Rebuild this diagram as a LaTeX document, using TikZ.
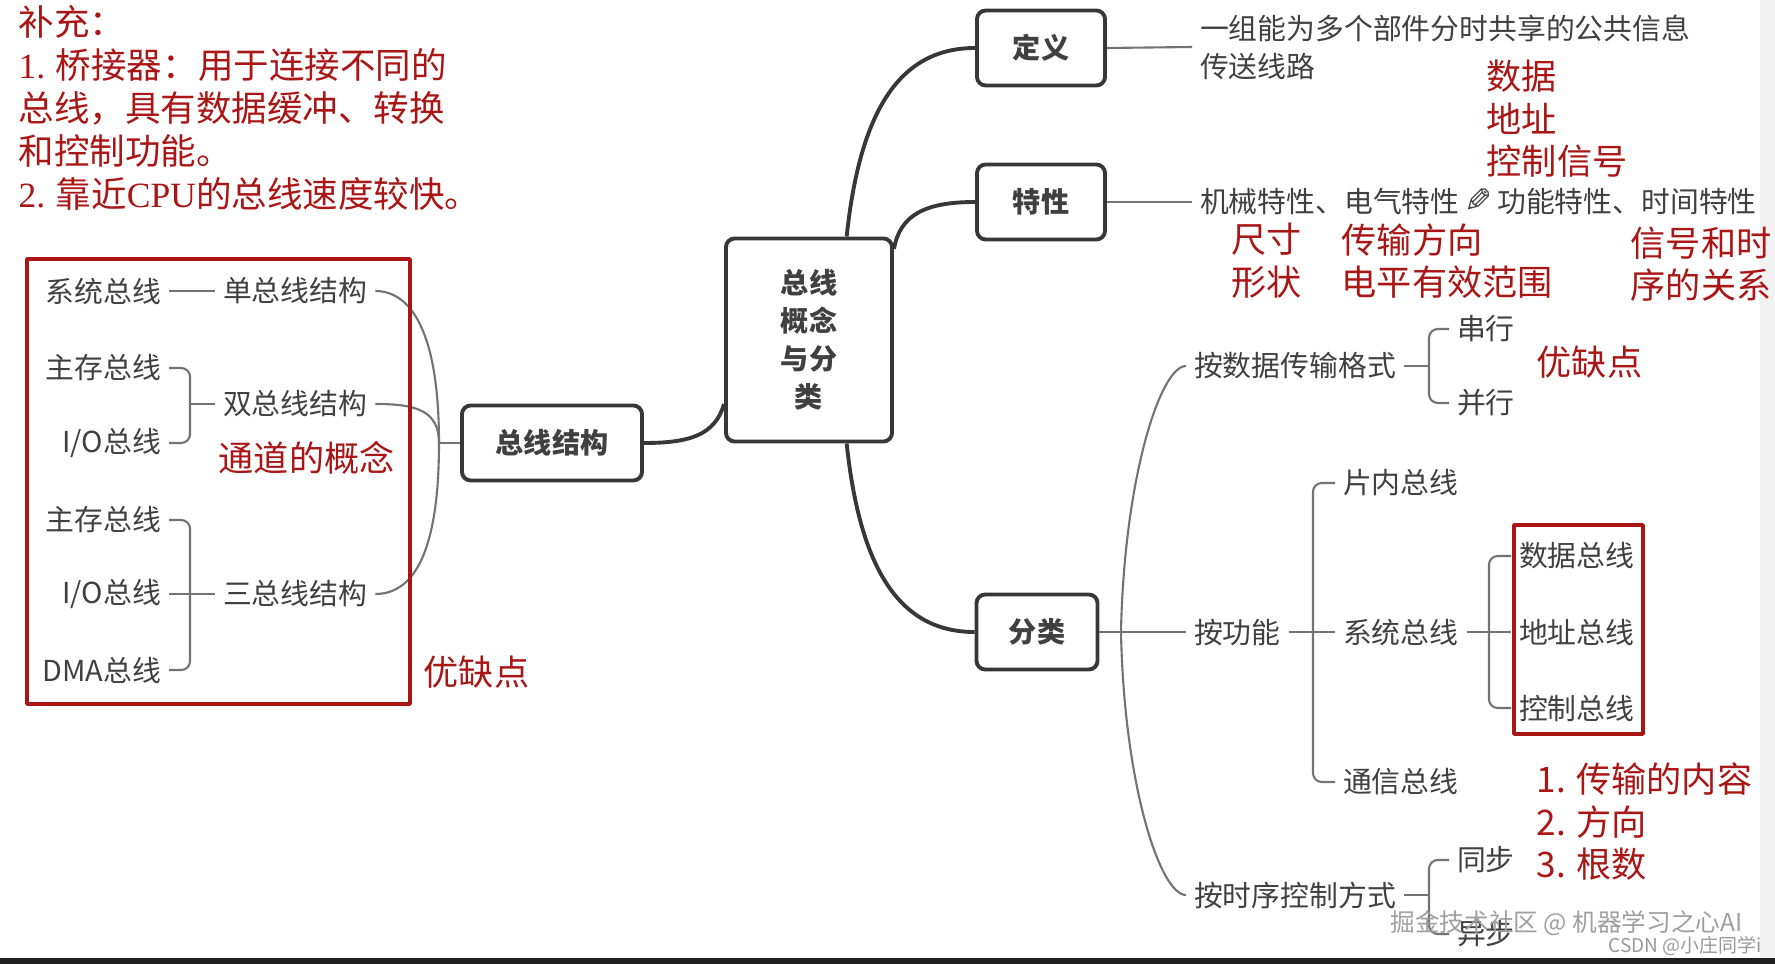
\documentclass[tikz,border=0pt]{standalone}
\usepackage{fontspec}
\setmainfont{Noto Sans CJK SC}
\newfontfamily\latinser{Liberation Serif}
\newfontfamily\symfont{DejaVu Sans}

\definecolor{inkgray}{RGB}{64,64,64}
\definecolor{linegray}{RGB}{55,55,55}
\definecolor{twiggray}{RGB}{115,115,115}
\definecolor{notered}{RGB}{170,22,22}

\begin{document}
\begin{tikzpicture}[x=0.01cm,y=-0.01cm,line join=round,
  box/.style={draw=linegray,line width=1.1pt,rounded corners=2.5pt,fill=white,text=inkgray,
    font=\fontsize{8}{10.8}\selectfont\bfseries,inner sep=0pt},
  txt/.style={text=inkgray,font=\fontsize{8.2}{10.8}\selectfont,inner sep=0pt,outer xsep=2.3pt},
  note/.style={text=notered,font=\fontsize{10}{12.1}\selectfont,inner sep=0pt,align=left,anchor=west},
  trunk/.style={draw=linegray,line width=1.1pt},
  twig/.style={draw=twiggray,line width=0.6pt},
  brace/.style={twig,rounded corners=2.5pt},
  redframe/.style={draw=notered,line width=1pt}]
  \fill[white] (0,0) rectangle (1775,964);
  \fill[gray!10] (1760,0) rectangle (1775,958);
  \fill[black!88] (0,958) rectangle (1775,964);
  \useasboundingbox (0,0) rectangle (1775,964);

  % main boxes
  \node[box,minimum width=1.66cm,minimum height=2.03cm,align=center] (core) at (809,340) {总线\\概念\\与分\\类};
  \node[box,minimum width=1.28cm,minimum height=0.75cm] (defn) at (1041,48) {定义};
  \node[box,minimum width=1.28cm,minimum height=0.75cm] (feat) at (1041,202) {特性};
  \node[box,minimum width=1.21cm,minimum height=0.75cm] (cls) at (1037,632) {分类};
  \node[box,minimum width=1.80cm,minimum height=0.75cm] (struct) at (552,443) {总线结构};
  \draw[trunk] (core.70) .. controls (860,110) and (900,48) .. (defn.west);
  \draw[trunk] (core.47) .. controls (900,215) and (925,202) .. (feat.west);
  \draw[trunk] (core.-70) .. controls (860,570) and (900,632) .. (cls.west);
  \draw[trunk] (core.217) .. controls (715,435) and (690,443) .. (struct.east);

  % definition and features
  \node[txt,anchor=west,align=left] (deftxt) at (1192,47) {一组能为多个部件分时共享的公共信息\\传送线路};
  \draw[twig] (defn.east) -- (deftxt.west);
  \node[txt,anchor=west] (feattxt) at (1192,202) {机械特性、电气特性\,\reflectbox{\symfont\fontsize{9.5}{10}\selectfont ✎}\,功能特性、时间特性};
  \draw[twig] (feat.east) -- (feattxt.west);

  % classification
  \coordinate (clsj) at (1121,632);
  \node[txt,anchor=west] (fmt) at (1186,366) {按数据传输格式};
  \node[txt,anchor=west] (func) at (1186,632) {按功能};
  \node[txt,anchor=west] (timing) at (1186,895) {按时序控制方式};
  \draw[twig] (cls.east) -- (func.west);
  \draw[twig] (clsj) .. controls (1124,480) and (1160,366) .. (fmt.west);
  \draw[twig] (clsj) .. controls (1124,784) and (1160,895) .. (timing.west);

  \coordinate (fmtj) at (1429,366);
  \node[txt,anchor=west] (serial) at (1449,329) {串行};
  \node[txt,anchor=west] (parallel) at (1449,403) {并行};
  \draw[twig] (fmt.east) -- (fmtj);
  \draw[brace] (serial.west) -| (fmtj) |- (parallel.west);

  \coordinate (funcj) at (1313,632);
  \node[txt,anchor=west] (onchip) at (1335,483) {片内总线};
  \node[txt,anchor=west] (sysbus) at (1335,632) {系统总线};
  \node[txt,anchor=west] (comm) at (1335,782) {通信总线};
  \draw[twig] (func.east) -- (sysbus.west);
  \draw[brace] (onchip.west) -| (funcj) |- (comm.west);

  \coordinate (sysj) at (1489,632);
  \node[txt,anchor=west] (databus) at (1511,556) {数据总线};
  \node[txt,anchor=west] (addrbus) at (1511,632) {地址总线};
  \node[txt,anchor=west] (ctrlbus) at (1511,708) {控制总线};
  \draw[twig] (sysbus.east) -- (addrbus.west);
  \draw[brace] (databus.west) -| (sysj) |- (ctrlbus.west);

  \coordinate (timej) at (1429,895);
  \node[txt,anchor=west] (sync) at (1449,860) {同步};
  \node[txt,anchor=west] (async) at (1449,934) {异步};
  \draw[twig] (timing.east) -- (timej);
  \draw[brace] (sync.west) -| (timej) |- (async.west);

  % bus structures
  \coordinate (structj) at (439,443);
  \node[txt,anchor=west] (single) at (215,291) {单总线结构};
  \node[txt,anchor=west] (dual) at (215,404) {双总线结构};
  \node[txt,anchor=west] (triple) at (215,594) {三总线结构};
  \draw[twig] (struct.west) -- (structj);
  \draw[twig] (structj) .. controls (439,330) and (410,291) .. (single.east);
  \draw[twig] (structj) .. controls (439,410) and (415,404) .. (dual.east);
  \draw[twig] (structj) .. controls (439,560) and (410,594) .. (triple.east);

  \node[txt,anchor=east] (sysA) at (169,291) {系统总线};
  \draw[twig] (sysA.east) -- (single.west);
  \coordinate (dualj) at (190,404);
  \node[txt,anchor=east] (memA) at (169,368) {主存总线};
  \node[txt,anchor=east] (ioA) at (169,443) {I/O总线};
  \draw[brace] (memA.east) -| (dualj) |- (ioA.east);
  \draw[twig] (dualj) -- (dual.west);
  \coordinate (triplej) at (190,594);
  \node[txt,anchor=east] (memB) at (169,520) {主存总线};
  \node[txt,anchor=east] (ioB) at (169,594) {I/O总线};
  \node[txt,anchor=east] (dmaB) at (169,670) {DMA总线};
  \draw[brace] (memB.east) -| (triplej) |- (dmaB.east);
  \draw[twig] (ioB.east) -- (triple.west);

  % red notes
  \draw[redframe] (27,259) rectangle (410,704);
  \draw[redframe] (1514,525) rectangle (1643,734);
  \node[note,font=\fontsize{10.1}{12.2}\selectfont] (supp) at (18,108)
    {补充：\\{\latinser 1.} 桥接器：用于连接不同的\\总线，具有数据缓冲、转换\\和控制功能。\\{\latinser 2.} 靠近{\latinser CPU}的总线速度较快。};
  \node[note] (sigs) at (1486,119) {数据\\地址\\控制信号};
  \node[note] (mech) at (1231,261) {尺寸\\形状};
  \node[note] (elec) at (1341,261) {传输方向\\电平有效范围};
  \node[note] (timerel) at (1630,264) {信号和时\\序的关系};
  \node[note] (fmtnote) at (1536,362) {优缺点};
  \node[note] (chan) at (218,458) {通道的概念};
  \node[note] (structnote) at (423,672) {优缺点};
  \node[note] (commnote) at (1536,822) {1. 传输的内容\\2. 方向\\3. 根数};

  % watermark
  \node[anchor=west,inner sep=0pt,text=gray!75,font=\fontsize{7}{8}\selectfont] (wm) at (1390,923) {掘金技术社区 @ 机器学习之心AI};
  \node[anchor=west,inner sep=0pt,text=gray!80,font=\fontsize{5.4}{6}\selectfont] (csdn) at (1608,946) {CSDN @小庄同学i};
\end{tikzpicture}
\end{document}
